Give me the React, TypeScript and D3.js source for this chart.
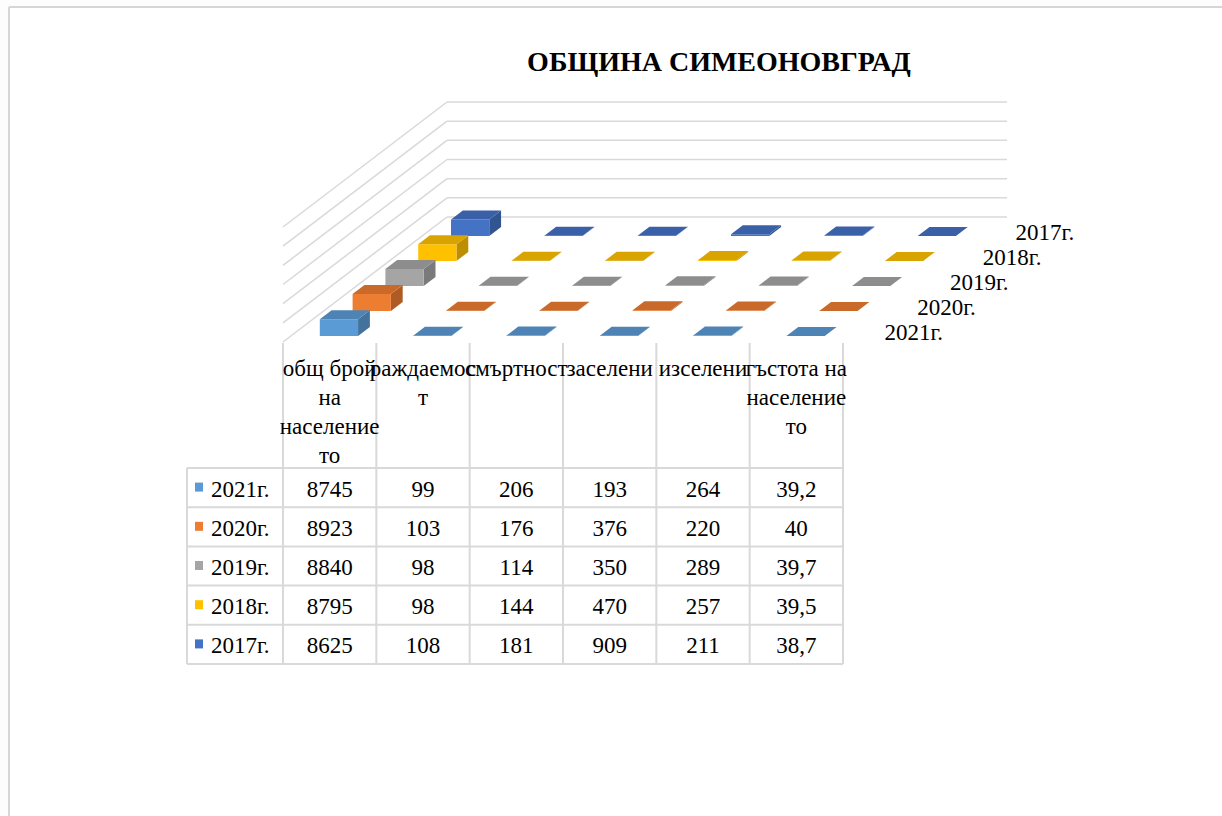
import React from 'react';
import * as d3 from 'd3';

const width = 1222;
const height = 816;

// категории (редовете на надписите под графиката)
const categories = [
  ['общ брой', 'на', 'население', 'то'],
  ['раждаемос', 'т'],
  ['смъртност'],
  ['заселени'],
  ['изселени'],
  ['гъстота на', 'население', 'то'],
];

// години, отпред назад
const years = ['2021г.', '2020г.', '2019г.', '2018г.', '2017г.'];
const yearColors = ['#5B9BD5', '#ED7D31', '#A5A5A5', '#FFC000', '#4472C4'];

const values2021 = [8745, 99, 206, 193, 264, 39.2];
const values2020 = [8923, 103, 176, 376, 220, 40];
const values2019 = [8840, 98, 114, 350, 289, 39.7];
const values2018 = [8795, 98, 144, 470, 257, 39.5];
const values2017 = [8625, 108, 181, 909, 211, 38.7];
const seriesValues = [values2021, values2020, values2019, values2018, values2017];

const yTicks = [0, 10000, 20000, 30000, 40000, 50000, 60000];

// 3D проекция
const floorY = 342;
const depthStep = { dx: 32.8, dy: -25 };
const x = d3.scaleLinear().domain([0, categories.length]).range([283, 843]);
const h = d3.scaleLinear().domain([0, 60000]).range([0, 115]);

const P = (cx: number, d: number, v: number): [number, number] => [
  x(cx) + depthStep.dx * d,
  floorY + depthStep.dy * d - h(v),
];

const poly = (pts: [number, number][]) => pts.map((p) => p.join(',')).join(' ');

// таблица
const tableLeft = 187;
const tableTop = 468;
const rowH = 39.2;
const headerTop = 343;

const fmt = (v: number) => String(v).replace('.', ',');

const serif = '"Liberation Serif", "Times New Roman", serif';

function Bar({ c, r, v, color }: { c: number; r: number; v: number; color: string }) {
  const x0 = c + 0.31;
  const x1 = c + 0.72;
  const d0 = r + 0.24;
  const d1 = r + 0.6;
  const top = d3.color(color)!.darker(0.45).formatHex();
  const side = d3.color(color)!.darker(0.85).formatHex();
  return (
    <g>
      <polygon
        points={poly([P(x1, d0, 0), P(x1, d1, 0), P(x1, d1, v), P(x1, d0, v)])}
        fill={side}
      />
      <polygon points={poly([P(x0, d0, 0), P(x1, d0, 0), P(x1, d0, v), P(x0, d0, v)])} fill={color} />
      <polygon points={poly([P(x0, d0, v), P(x1, d0, v), P(x1, d1, v), P(x0, d1, v)])} fill={top} />
    </g>
  );
}

export default function App() {
  const nCat = categories.length;
  const nRows = years.length;
  const rowsBackToFront = d3.range(nRows).reverse();

  return (
    <div style={{ position: 'absolute', left: 0, top: 0 }}>
      <svg width={width} height={height} style={{ display: 'block', background: '#fff' }}>
        {/* лист */}
        <rect x={0} y={0} width={width} height={height} fill="#fdfdfd" />
        <rect x={10} y={8} width={width - 10} height={height - 8} fill="#fff" />
        <line x1={9} y1={7} x2={width} y2={7} stroke="#d6d6d6" strokeWidth={2} />
        <line x1={9} y1={7} x2={9} y2={height} stroke="#d6d6d6" strokeWidth={2} />

        <text
          x={719}
          y={71}
          textAnchor="middle"
          fontFamily={serif}
          fontWeight="bold"
          fontSize={28}
          fill="#000"
        >
          ОБЩИНА СИМЕОНОВГРАД
        </text>

        {/* стени */}
        <g stroke="#d9d9d9" strokeWidth={1.5} fill="none">
          {yTicks.map((t) => {
            const a = P(0, nRows, t);
            const b = P(nCat, nRows, t);
            const f = P(0, 0, t);
            return (
              <g key={t}>
                <line x1={a[0]} y1={a[1]} x2={b[0]} y2={b[1]} />
                <line x1={a[0]} y1={a[1]} x2={f[0]} y2={f[1]} />
              </g>
            );
          })}
        </g>

        {/* колони */}
        {rowsBackToFront.map((r) => (
          <g key={years[r]}>
            {seriesValues[r].map((v, c) => (
              <Bar key={c} c={c} r={r} v={v} color={yearColors[r]} />
            ))}
          </g>
        ))}

        {/* надписи на редовете */}
        {years.map((yr, r) => {
          const p = P(nCat, r + 0.5, 0);
          return (
            <text key={yr} x={p[0] + 25} y={p[1] + 10} fontFamily={serif} fontSize={23} fill="#000">
              {yr}
            </text>
          );
        })}

        {/* таблица с данни */}
        <g stroke="#d9d9d9" strokeWidth={2}>
          {d3.range(nCat + 1).map((c) => (
            <line key={c} x1={x(c)} y1={headerTop} x2={x(c)} y2={tableTop + rowH * nRows} />
          ))}
          <line x1={tableLeft} y1={tableTop} x2={tableLeft} y2={tableTop + rowH * nRows} />
          {d3.range(nRows + 1).map((r) => (
            <line
              key={r}
              x1={tableLeft}
              y1={tableTop + rowH * r}
              x2={x(nCat)}
              y2={tableTop + rowH * r}
            />
          ))}
        </g>

        {categories.map((lines, c) => (
          <text
            key={c}
            x={x(c + 0.5)}
            textAnchor="middle"
            fontFamily={serif}
            fontSize={23}
            fill="#000"
          >
            {lines.map((ln, i) => (
              <tspan key={i} x={x(c + 0.5)} y={376 + i * 29}>
                {ln}
              </tspan>
            ))}
          </text>
        ))}

        {years.map((yr, r) => {
          const cy = tableTop + rowH * (r + 0.5);
          return (
            <g key={yr}>
              <rect x={195} y={cy - 5} width={8} height={9} fill={yearColors[r]} />
              <text x={211} y={cy + 9} fontFamily={serif} fontSize={23} fill="#000">
                {yr}
              </text>
              {seriesValues[r].map((v, c) => (
                <text
                  key={c}
                  x={x(c + 0.5)}
                  y={cy + 9}
                  textAnchor="middle"
                  fontFamily={serif}
                  fontSize={23}
                  fill="#000"
                >
                  {fmt(v)}
                </text>
              ))}
            </g>
          );
        })}
      </svg>
    </div>
  );
}
